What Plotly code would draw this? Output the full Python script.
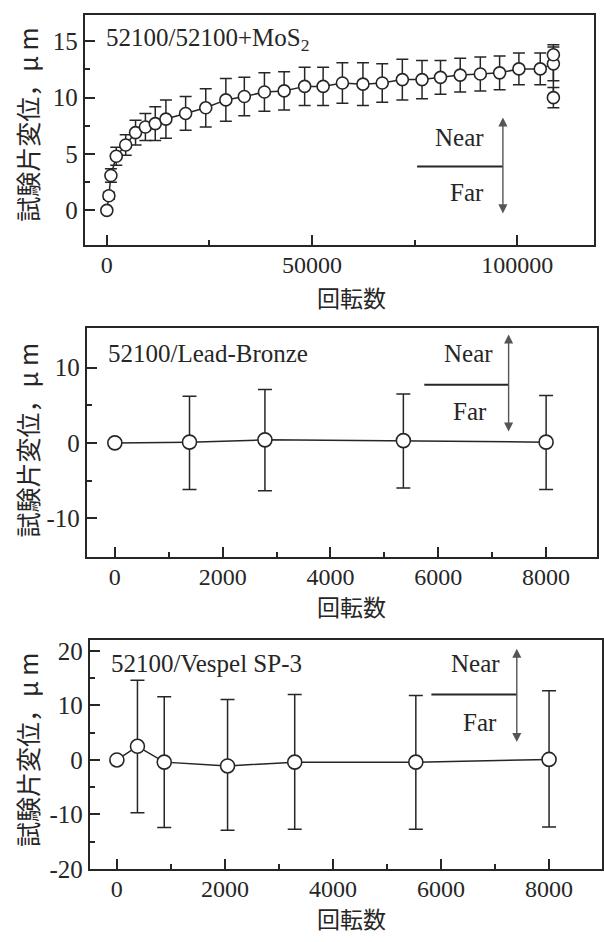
import plotly.graph_objects as go

# ---------------- data ----------------
TOP_X = [0, 500, 1000, 2300, 4600, 7000, 9400, 11800, 14400, 19200, 24100, 29000,
         33500, 38400, 43200, 48200, 52700, 57400, 62400, 67100, 72000, 76800,
         81300, 86100, 91000, 95700, 100400, 105600, 108800, 108800, 108800]
TOP_Y = [0.0, 1.3, 3.1, 4.8, 5.8, 6.9, 7.4, 7.7, 8.1, 8.6, 9.1, 9.8,
         10.1, 10.5, 10.6, 11.0, 11.0, 11.3, 11.2, 11.3, 11.6, 11.6,
         11.8, 12.0, 12.1, 12.2, 12.55, 12.55, 13.0, 13.8, 10.0]
TOP_ERR = [0.0, 0.3, 0.6, 0.8, 0.9, 1.1, 1.2, 1.5, 1.7, 1.5, 1.7, 1.9,
           1.7, 1.7, 1.7, 1.7, 1.7, 1.8, 1.9, 1.7, 1.8, 1.7,
           1.5, 1.5, 1.5, 1.5, 1.4, 1.4, 1.5, 0.9, 0.9]

MID_X = [0, 1385, 2784, 5352, 8000]
MID_Y = [0.0, 0.1, 0.4, 0.3, 0.1]
MID_ERR_PLUS = [0.0, 6.1, 6.7, 6.2, 6.2]
MID_ERR_MINUS = [0.0, 6.3, 6.75, 6.3, 6.3]

BOT_X = [0, 381, 877, 2049, 3292, 5534, 8000]
BOT_Y = [0.0, 2.5, -0.4, -1.1, -0.4, -0.4, 0.1]
BOT_ERR_PLUS = [0.0, 12.1, 12.0, 12.2, 12.4, 12.2, 12.6]
BOT_ERR_MINUS = [0.0, 12.2, 12.0, 11.8, 12.3, 12.3, 12.4]

TOP_XTICKS = [0, 50000, 100000]
TOP_XTICK_LABELS = ["0", "50000", "100000"]
TOP_YTICKS = [0, 5, 10, 15]
TOP_YTICK_LABELS = ["0", "5", "10", "15"]
MID_XTICKS = [0, 2000, 4000, 6000, 8000]
MID_XTICK_LABELS = ["0", "2000", "4000", "6000", "8000"]
MID_YTICKS = [-10, 0, 10]
MID_YTICK_LABELS = ["-10", "0", "10"]
BOT_XTICKS = [0, 2000, 4000, 6000, 8000]
BOT_XTICK_LABELS = ["0", "2000", "4000", "6000", "8000"]
BOT_YTICKS = [-20, -10, 0, 10, 20]
BOT_YTICK_LABELS = ["-20", "-10", "0", "10", "20"]

PANEL_LABELS = ["52100/52100+MoS<sub>2</sub>", "52100/Lead-Bronze", "52100/Vespel SP-3"]
X_TITLE = "回転数"
Y_TITLE = "試験片変位，μ m"

# ---------------- style ----------------
INK = "#262626"
SERIF = "Liberation Serif, Times New Roman, serif"
CJK = "Noto Sans CJK JP"
W, H = 604, 942

fig = go.Figure()

def add_series(xs, ys, ep, em, xa, ya, msize, cap):
    fig.add_trace(go.Scatter(
        x=xs, y=ys, xaxis=xa, yaxis=ya, mode="lines+markers",
        line=dict(color=INK, width=1.5),
        marker=dict(symbol="circle", size=msize, color="white",
                    line=dict(color=INK, width=1.6)),
        error_y=dict(type="data", array=ep, arrayminus=em, symmetric=False,
                     color=INK, thickness=1.5, width=cap),
        showlegend=False, hoverinfo="skip"))

add_series(TOP_X, TOP_Y, TOP_ERR, TOP_ERR, "x", "y", 12, 6)
add_series(MID_X, MID_Y, MID_ERR_PLUS, MID_ERR_MINUS, "x2", "y2", 14, 7)
add_series(BOT_X, BOT_Y, BOT_ERR_PLUS, BOT_ERR_MINUS, "x3", "y3", 14, 7)

def px_dom(a, b, total):
    return [a / total, b / total]

def py_dom(top, bottom):
    return [1 - bottom / H, 1 - top / H]

axis_common = dict(
    showline=True, linecolor=INK, linewidth=2, mirror=True,
    ticks="inside", ticklen=10, tickwidth=1.5, tickcolor=INK,
    showgrid=False, zeroline=False, tickmode="array",
    tickfont=dict(family=SERIF, size=25, color=INK),
)

panels = [
    ((85, 595), (13, 247), [-5350, 118700], [-3.05, 17.35],
     TOP_XTICKS, TOP_XTICK_LABELS, TOP_YTICKS, TOP_YTICK_LABELS,
     [25000, 75000], [2.5, 7.5, 12.5]),
    ((87, 598), (332, 565), [-519, 8944], [-15.2, 15.2],
     MID_XTICKS, MID_XTICK_LABELS, MID_YTICKS, MID_YTICK_LABELS,
     [1000, 3000, 5000, 7000], [-5, 5]),
    ((90, 603), (649, 882), [-500, 8980], [-20, 22],
     BOT_XTICKS, BOT_XTICK_LABELS, BOT_YTICKS, BOT_YTICK_LABELS,
     [1000, 3000, 5000, 7000], [-15, -5, 5, 15]),
]

layout_axes = {}
for i, (xd, yd, xr, yr, xt, xl, yt, yl, xm, ym) in enumerate(panels):
    s = "" if i == 0 else str(i + 1)
    layout_axes["xaxis" + s] = dict(
        axis_common, domain=px_dom(xd[0], xd[1], W), range=xr, anchor="y" + s,
        tickvals=xt, ticktext=xl, ticklabelstandoff=-3,
        tickfont=dict(family=SERIF, size=24, color=INK),
        minor=dict(ticks="inside", ticklen=5, tickwidth=1.5, tickcolor=INK,
                   tickmode="array", tickvals=xm, showgrid=False))
    layout_axes["yaxis" + s] = dict(
        axis_common, domain=py_dom(yd[0], yd[1]), range=yr, anchor="x" + s,
        tickvals=yt, ticktext=yl,
        minor=dict(ticks="inside", ticklen=5, tickwidth=1.5, tickcolor=INK,
                   tickmode="array", tickvals=ym, showgrid=False))

annotations = []
shapes = []

label_pos = [(-757, 15.2), (-158, 11.8), (-144, 17.7)]
for i, (lx, ly) in enumerate(label_pos):
    s = "" if i == 0 else str(i + 1)
    annotations.append(dict(x=lx, y=ly, xref="x" + s, yref="y" + s, text=PANEL_LABELS[i],
                            showarrow=False, xanchor="left", yanchor="middle",
                            font=dict(family=SERIF, size=25, color=INK)))

# Near / Far indicators
nf = [
    (96500, 8.25, -0.4, 75600, 3.9, 86000, 6.5, 87800, 1.55),
    (7304, 14.4, 1.3, 5740, 7.7, 6551, 11.8, 6587, 4.2),
    (7403, 20.4, 3.0, 5822, 12.0, 6634, 17.7, 6720, 6.9),
]
for i, (ax_, top, bot, lx0, ly, nx, ny, fx, fy) in enumerate(nf):
    s = "" if i == 0 else str(i + 1)
    annotations.append(dict(x=ax_, y=top, ax=ax_, ay=bot, xref="x" + s, yref="y" + s,
                            axref="x" + s, ayref="y" + s, text="", showarrow=True,
                            arrowhead=2, startarrowhead=2, arrowside="end+start",
                            arrowsize=1.3, startarrowsize=1.3, arrowwidth=1.4,
                            arrowcolor="#555"))
    shapes.append(dict(type="line", xref="x" + s, yref="y" + s, x0=lx0, x1=ax_, y0=ly, y1=ly,
                       line=dict(color=INK, width=2)))
    annotations.append(dict(x=nx, y=ny, xref="x" + s, yref="y" + s, text="Near",
                            showarrow=False, font=dict(family=SERIF, size=25, color=INK)))
    annotations.append(dict(x=fx, y=fy, xref="x" + s, yref="y" + s, text="Far",
                            showarrow=False, font=dict(family=SERIF, size=25, color=INK)))

# axis titles
x_title_pos = [(352, 300), (352, 614), (352, 932)]
y_title_pos = [(27, 125), (27, 446), (27, 761)]
for (cx, cy) in x_title_pos:
    annotations.append(dict(x=cx / W, y=1 - cy / H, xref="paper", yref="paper", text=X_TITLE,
                            showarrow=False, xanchor="center", yanchor="middle",
                            font=dict(family=CJK, size=23, color=INK)))
for (cx, cy) in y_title_pos:
    annotations.append(dict(x=cx / W, y=1 - cy / H, xref="paper", yref="paper", text=Y_TITLE,
                            showarrow=False, xanchor="center", yanchor="middle", textangle=-90,
                            font=dict(family=CJK, size=25, color=INK)))

fig.update_layout(
    width=W, height=H, margin=dict(l=0, r=0, t=0, b=0),
    paper_bgcolor="white", plot_bgcolor="white",
    annotations=annotations, shapes=shapes, **layout_axes)

fig.write_html("out.html")
